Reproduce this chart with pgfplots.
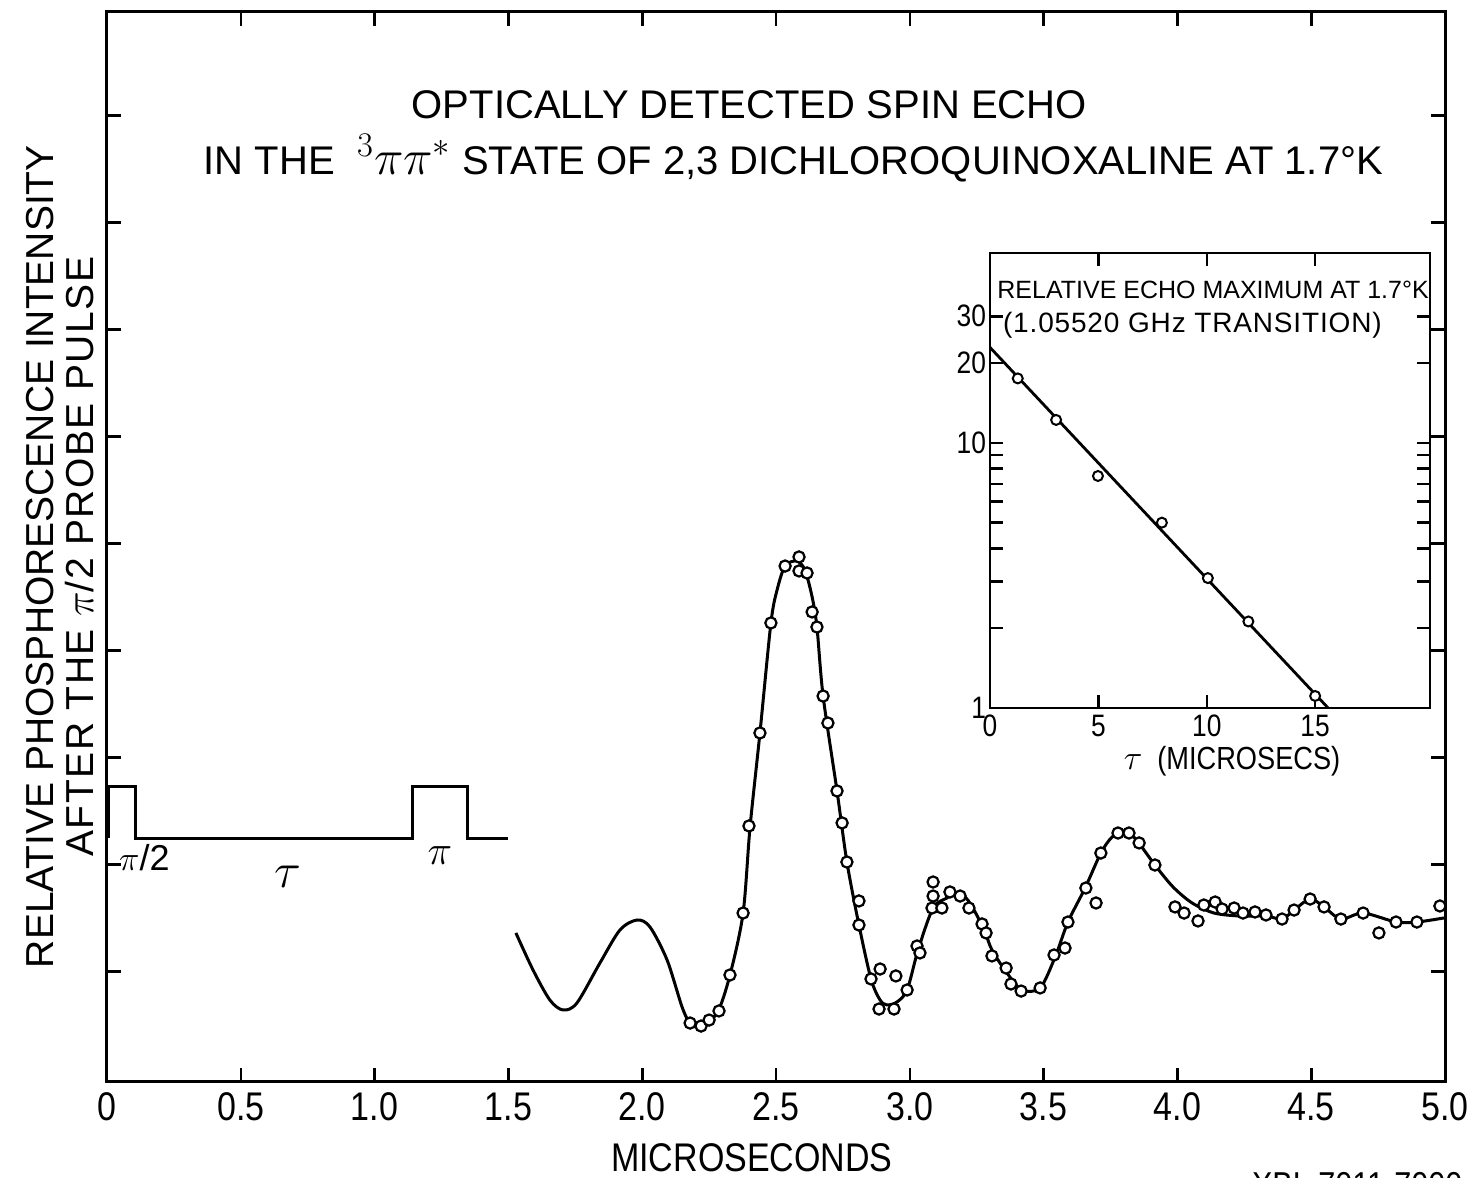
\documentclass[border=0pt]{standalone}
\usepackage{fontspec}
\setmainfont{Liberation Sans}
\newfontfamily\condfont[FakeStretch=0.85]{Liberation Sans}
\newfontfamily\widefont[LetterSpace=4]{Liberation Sans}
\usepackage{pgfplots}
\pgfplotsset{compat=1.18}
\begin{document}
\begin{tikzpicture}
\useasboundingbox (0,0) rectangle (739pt,589pt);
\begin{axis}[name=main,
  at={(53.5pt,48pt)}, anchor=south west,
  width=669pt, height=535pt, scale only axis,
  xmin=0, xmax=5, ymin=-0.03, ymax=9.97,
  xtick={0,0.5,1,1.5,2,2.5,3,3.5,4,4.5,5},
  xticklabels={0,0.5,1.0,1.5,2.0,2.5,3.0,3.5,4.0,4.5,5.0},
  ytick={1,2,3,4,5,6,7,8,9}, yticklabels={},
  tick align=inside, major tick length=7pt,
  axis line style={line width=1.5pt},
  tick style={line width=1.3pt, black},
  xticklabel style={font=\condfont\fontsize{20}{20}\selectfont, yshift=-2pt},
  xlabel={MICROSECONDS},
  xlabel style={at={(axis description cs:0.482,-0.071)}, anchor=center, font=\condfont\fontsize{20}{20}\selectfont},
  ylabel={RELATIVE PHOSPHORESCENCE INTENSITY\\{\widefont AFTER THE $\pi$/2 PROBE PULSE}},
  ylabel style={at={(axis description cs:-0.0351,0.491)}, anchor=center, align=center, font=\fontsize{19.5}{20}\selectfont},
  clip=false,
]
% pulse sequence
\addplot[line width=1.5pt, sharp plot] coordinates {(0.004,2.25) (0.004,2.736) (0.108,2.736) (0.108,2.25) (1.143,2.25) (1.143,2.736) (1.349,2.736) (1.349,2.25) (1.498,2.25)};
\node[font=\fontsize{18}{18}\selectfont] at (axis cs:0.14,2.07) {$\pi$/2};
\node[font=\fontsize{24}{24}\selectfont] at (axis cs:0.676,1.886) {$\tau$};
\node[font=\fontsize{22}{22}\selectfont] at (axis cs:1.244,2.09) {$\pi$};
% fitted curve
\addplot[line width=1.5pt, smooth, tension=0.5] coordinates {
(1.528,1.363) (1.592,1.017) (1.655,0.736) (1.704,0.643) (1.756,0.708) (1.842,1.082) (1.917,1.391) (1.981,1.484) (2.029,1.419) (2.093,1.110) (2.149,0.671) (2.179,0.521) (2.216,0.484) (2.280,0.615) (2.328,0.970) (2.377,1.549) (2.403,2.353) (2.440,3.232) (2.481,4.260) (2.504,4.568) (2.534,4.792) (2.578,4.839) (2.608,4.755) (2.635,4.503) (2.653,4.222) (2.676,3.577) (2.728,2.690) (2.765,2.026) (2.810,1.437) (2.855,0.933) (2.889,0.736) (2.915,0.690) (2.952,0.718) (2.990,0.830) (3.031,1.204) (3.087,1.596) (3.139,1.690) (3.169,1.736) (3.210,1.690) (3.244,1.559) (3.281,1.372) (3.307,1.204) (3.363,0.989) (3.419,0.830) (3.487,0.849) (3.543,1.138) (3.591,1.465) (3.655,1.783) (3.714,2.110) (3.756,2.260) (3.800,2.316) (3.841,2.250) (3.916,1.998) (3.984,1.792) (4.055,1.643) (4.137,1.549) (4.234,1.521) (4.331,1.521) (4.391,1.493) (4.436,1.577) (4.496,1.680) (4.548,1.606) (4.611,1.493) (4.694,1.549) (4.817,1.465) (4.895,1.465) (4.996,1.503)};
% measured points
\addplot[only marks, mark=*, mark size=2.8pt, mark options={fill=white, draw=black, line width=1.1pt}] coordinates {
(2.179,0.521) (2.220,0.493) (2.250,0.549) (2.287,0.634) (2.328,0.970) (2.377,1.549) (2.399,2.363) (2.440,3.232) (2.481,4.260) (2.534,4.792) (2.586,4.877) (2.586,4.746) (2.616,4.727) (2.635,4.363) (2.653,4.222) (2.676,3.577) (2.694,3.325) (2.728,2.690) (2.747,2.391) (2.765,2.026) (2.810,1.662) (2.810,1.437) (2.855,0.933) (2.889,1.026) (2.948,0.961) (2.885,0.652) (2.941,0.652) (2.990,0.830) (3.027,1.241) (3.038,1.176) (3.087,1.839) (3.087,1.708) (3.083,1.596) (3.120,1.596) (3.150,1.746) (3.188,1.708) (3.221,1.596) (3.270,1.447) (3.285,1.363) (3.307,1.148) (3.360,1.035) (3.378,0.886) (3.416,0.820) (3.487,0.849) (3.539,1.157) (3.580,1.222) (3.591,1.465) (3.658,1.783) (3.696,1.643) (3.714,2.110) (3.778,2.297) (3.819,2.297) (3.857,2.204) (3.916,1.998) (3.991,1.606) (4.025,1.549) (4.077,1.475) (4.099,1.624) (4.141,1.652) (4.167,1.587) (4.212,1.596) (4.245,1.549) (4.290,1.559) (4.331,1.531) (4.391,1.493) (4.436,1.577) (4.496,1.680) (4.548,1.606) (4.611,1.493) (4.694,1.549) (4.753,1.363) (4.817,1.465) (4.895,1.465) (4.981,1.615)};
% titles
\node[font=\fontsize{20}{20}\selectfont] at (axis description cs:0.480,0.913) {OPTICALLY DETECTED SPIN ECHO};
\node[font=\fontsize{20}{20}\selectfont] at (axis description cs:0.513,0.863) {IN THE \ {\fontsize{23}{23}\selectfont$^{3}\pi\pi^{*}$} STATE OF 2,3 DICHLOROQUINOXALINE AT 1.7°K};
\end{axis}
\begin{axis}[name=inset,
  at={(495pt,235pt)}, anchor=south west,
  width=220pt, height=227.5pt, scale only axis,
  ymode=log, xmin=0, xmax=20.3, ymin=1, ymax=52,
  xtick={0,5,10,15}, xticklabels={0,5,10,15},
  ytick={1,2,3,4,5,6,7,8,9,10,20,30},
  yticklabels={1,,,,,,,,,10,20,30},
  xminorticks=false, yminorticks=false,
  tick align=inside, major tick length=6.5pt,
  axis line style={line width=1.3pt},
  tick style={line width=1.2pt, black},
  ticklabel style={font=\condfont\fontsize{15.5}{15.5}\selectfont},
  yticklabel style={xshift=1.5pt},
  xlabel={$\tau$\ \ (MICROSECS)},
  xlabel style={at={(axis description cs:0.55,-0.118)}, anchor=center, font=\condfont\fontsize{16}{16}\selectfont},
]
\addplot[line width=1.4pt] coordinates {(0,22.9) (15.6,1.0)};
\addplot[only marks, mark=*, mark size=2.5pt, mark options={fill=white, draw=black, line width=1pt}] coordinates {
(1.28,17.5) (3.05,12.2) (4.98,7.5) (7.93,5.0) (10.05,3.09) (11.92,2.12) (15.0,1.11)};
\node[font=\fontsize{12.5}{12.5}\selectfont] at (axis description cs:0.507,0.919) {RELATIVE ECHO MAXIMUM AT 1.7°K};
\node[font=\fontsize{14}{14}\selectfont] at (axis description cs:0.46,0.842) {\addfontfeatures{LetterSpace=3}(1.05520 GHz TRANSITION)};
\end{axis}
\node[anchor=west, font=\condfont\fontsize{18}{18}\selectfont] at (622.5pt,-3.5pt) {XBL 7011-7000};
\end{tikzpicture}
\end{document}
